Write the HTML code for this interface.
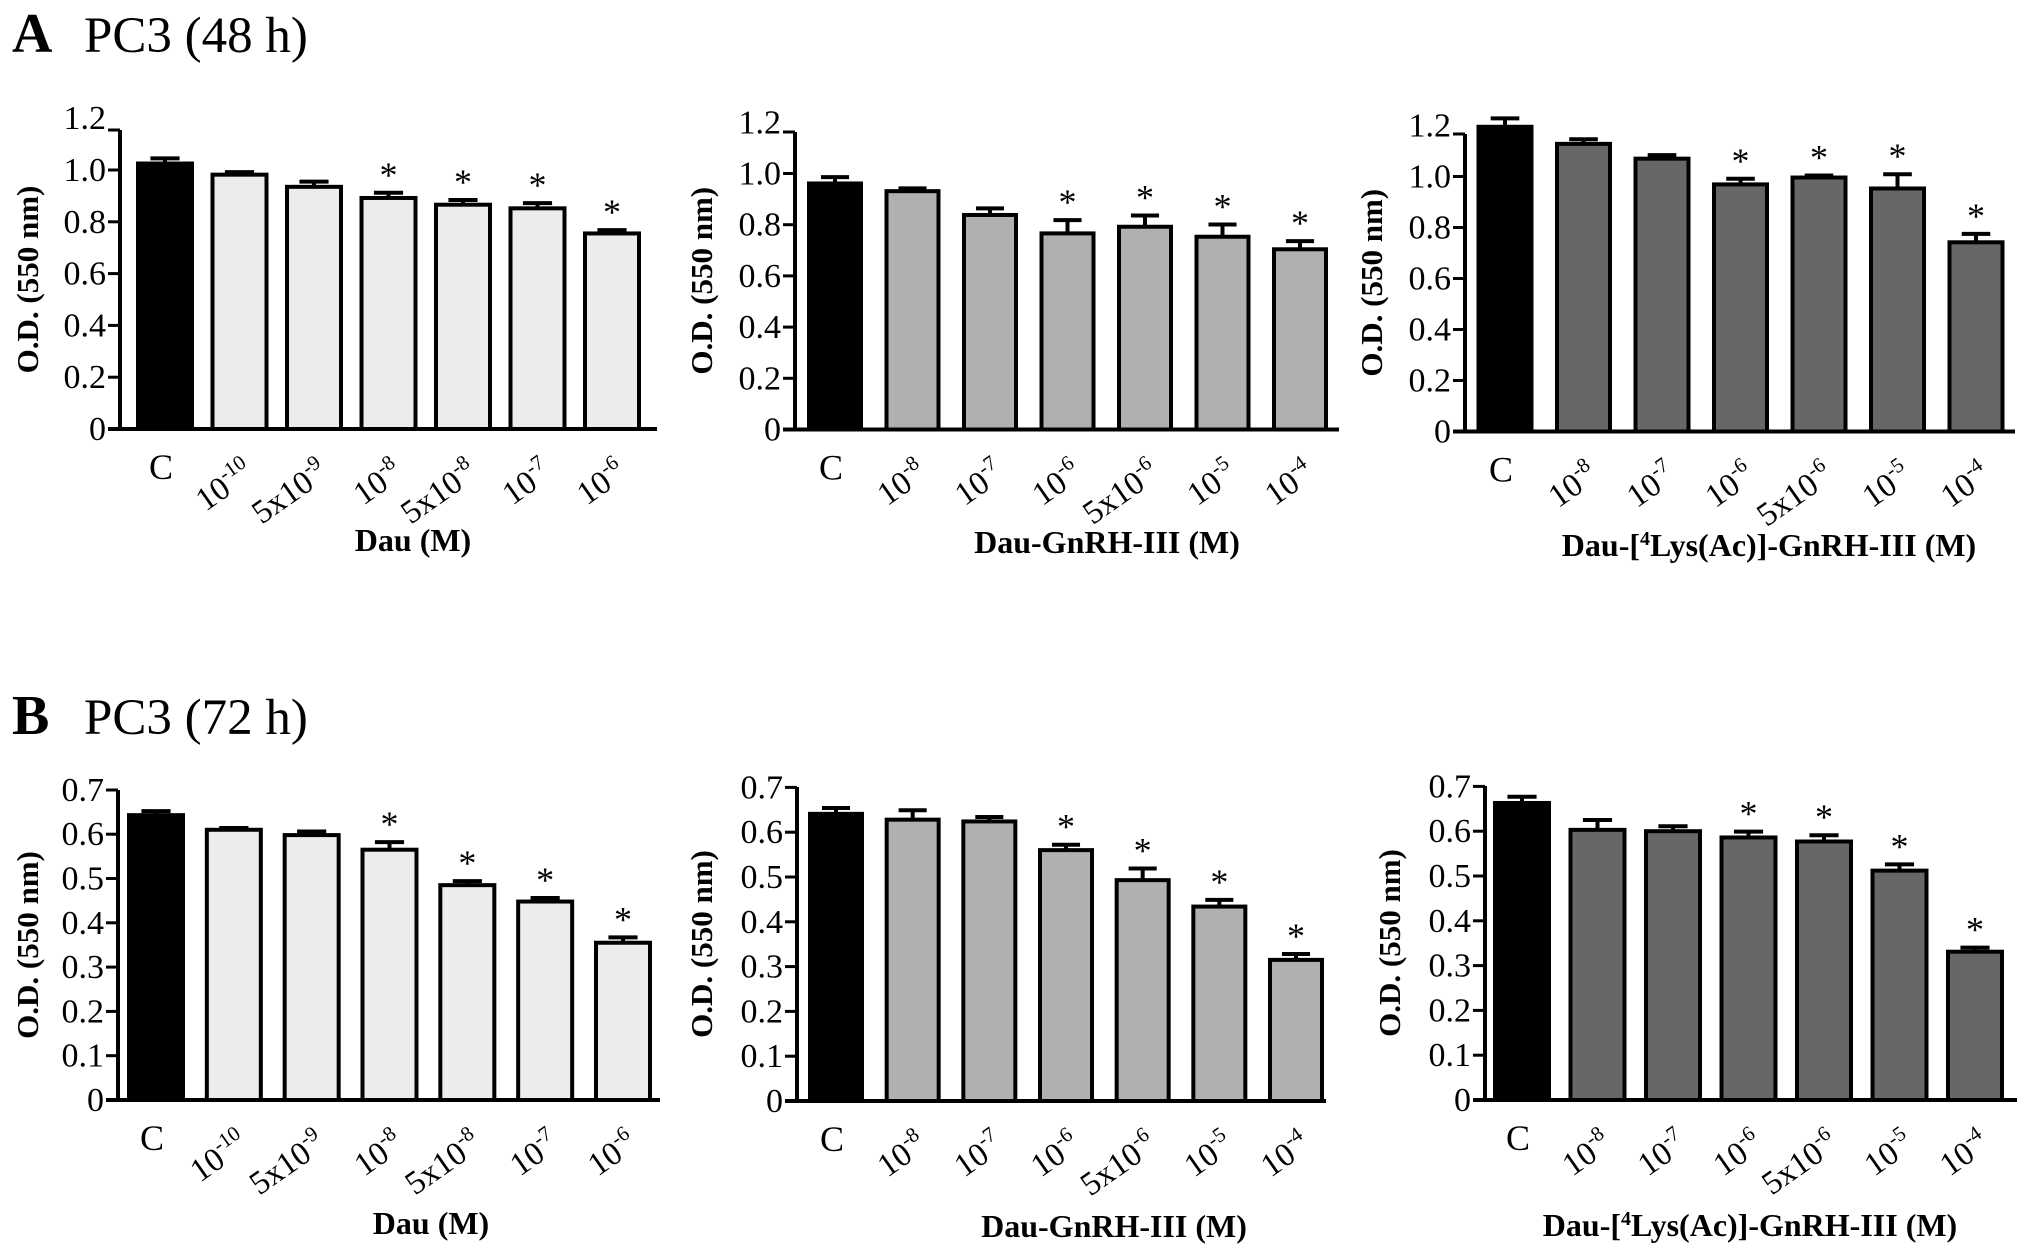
<!DOCTYPE html>
<html><head><meta charset="utf-8">
<style>
html,body{margin:0;padding:0;background:#fff;}
svg{display:block;font-family:"Liberation Serif","Times New Roman",serif;}
</style></head>
<body>
<svg id="fig" width="2031" height="1259" viewBox="0 0 2031 1259" xmlns="http://www.w3.org/2000/svg">
<text x="12" y="52" font-size="56" font-weight="bold">A</text>
<text x="84" y="52" font-size="51">PC3 (48 h)</text>
<text x="12" y="734" font-size="56" font-weight="bold">B</text>
<text x="84" y="734" font-size="51">PC3 (72 h)</text>
</svg>
<script>
// category labels [base, exponent]
const catsDau = [["C",""],["10","-10"],["5x10","-9"],["10","-8"],["5x10","-8"],["10","-7"],["10","-6"]];
const catsConj = [["C",""],["10","-8"],["10","-7"],["10","-6"],["5x10","-6"],["10","-5"],["10","-4"]];
const ticksA = ["0","0.2","0.4","0.6","0.8","1.0","1.2"];
const tickValsA = [0,0.2,0.4,0.6,0.8,1.0,1.2];
const ticksB = ["0","0.1","0.2","0.3","0.4","0.5","0.6","0.7"];
const tickValsB = [0,0.1,0.2,0.3,0.4,0.5,0.6,0.7];
// values
const a1Vals = [1.025,0.982,0.935,0.892,0.866,0.852,0.755];
const a1Err  = [1.045,0.992,0.955,0.912,0.884,0.872,0.768];
const a1Sig  = [0,0,0,1,1,1,1];
const a2Vals = [0.961,0.931,0.838,0.766,0.792,0.753,0.704];
const a2Err  = [0.986,0.942,0.864,0.818,0.836,0.801,0.736];
const a2Sig  = [0,0,0,1,1,1,1];
const a3Vals = [1.195,1.128,1.070,0.969,0.996,0.953,0.742];
const a3Err  = [1.228,1.146,1.084,0.991,1.004,1.009,0.775];
const a3Sig  = [0,0,0,1,1,1,1];
const b1Vals = [0.643,0.610,0.598,0.565,0.485,0.448,0.355];
const b1Err  = [0.652,0.614,0.606,0.582,0.494,0.456,0.367];
const b1Sig  = [0,0,0,1,1,1,1];
const b2Vals = [0.641,0.628,0.624,0.560,0.493,0.434,0.315];
const b2Err  = [0.654,0.649,0.634,0.572,0.519,0.449,0.328];
const b2Sig  = [0,0,0,1,1,1,1];
const b3Vals = [0.663,0.603,0.600,0.586,0.577,0.512,0.331];
const b3Err  = [0.677,0.625,0.611,0.599,0.591,0.526,0.340];
const b3Sig  = [0,0,0,1,1,1,1];

const NS="http://www.w3.org/2000/svg";
const svg=document.getElementById('fig');
function mk(tag,attrs,parent){const e=document.createElementNS(NS,tag);for(const k in attrs)e.setAttribute(k,attrs[k]);(parent||svg).appendChild(e);return e;}

function panel(p){
  const g=mk('g',{});
  
  
  const unit=p.unit;
  const y=v=>p.y0-v*unit;
  const n=p.vals.length;
  const step=(p.lastC-p.firstC)/(n-1);
  const xc=i=>p.firstC+i*step;
  const ya=mk('line',{x1:p.ax,y1:p.axTop,x2:p.ax,y2:p.y0+2,stroke:'#000','stroke-width':4},g);
  
  
  p.tickVals.forEach((tv,i)=>{
    const ty=Math.max(y(tv),p.axTop);
    const t=mk('line',{x1:p.ax-12,y1:ty,x2:p.ax,y2:ty,stroke:'#000','stroke-width':3},g);
    
    
    const l=mk('text',{x:p.ax-14,y:y(tv)+11,'font-size':34,'text-anchor':'end'},g);
    
    
    l.textContent=p.ticks[i];
  });
  const xa=mk('line',{x1:p.ax-12,y1:p.y0,x2:p.xEnd,y2:p.y0,stroke:'#000','stroke-width':4},g);
  
  
  for(let i=0;i<n;i++){
    const cx=xc(i), bw=p.bw;
    const top=y(p.vals[i]);
    const b=mk('rect',{x:cx-bw/2,y:top,width:bw,height:p.y0-top,fill:i===0?'#000':p.fill,stroke:'#000','stroke-width':4},g);
    
    
    const et=y(p.err[i]);
    const el=mk('path',{d:`M${cx},${top} V${et} M${cx-bw*0.27},${et} H${cx+bw*0.27}`,stroke:'#000','stroke-width':4,fill:'none'},g);
    
    
    if(p.sig[i]){
      const s=mk('text',{x:cx,y:et-6,'font-size':36,'text-anchor':'middle'},g);
      
      
      s.textContent='*';
    }
    const c=p.cats[i];
    let t;
    if(c[1]===''){
      t=mk('text',{x:cx-4,y:p.y0+50,'font-size':36,'text-anchor':'middle'},g);
      t.textContent=c[0];
    } else {
      const lx=cx+16, ly=p.y0+48;
      t=mk('text',{x:lx,y:ly,'font-size':33,'text-anchor':'end',transform:`rotate(-35 ${lx} ${ly})`},g);
      const t1=mk('tspan',{},t); t1.textContent=c[0];
      const t2=mk('tspan',{'font-size':21,dy:-14},t); t2.textContent=c[1];
    }
    
    
  }
  const yl=mk('text',{x:0,y:0,'font-size':31,'font-weight':'bold','text-anchor':'middle',transform:`translate(${p.ylx} ${(p.axTop+p.y0)/2}) rotate(-90)`},g);
  
  
  yl.textContent='O.D. (550 nm)';
  const xt=mk('text',{x:p.xtx,y:p.xty,'font-size':32,'font-weight':'bold','text-anchor':'middle'},g);
  
  
  if(p.lys){
    const a=mk('tspan',{},xt);a.textContent='Dau-[';
    const b=mk('tspan',{'font-size':20,dy:-11},xt);b.textContent='4';
    const c2=mk('tspan',{dy:11},xt);c2.textContent='Lys(Ac)]-GnRH-III (M)';
  } else xt.textContent=p.xtitle;
}

panel({name:'chart-a-dau',ax:120,axTop:130,y0:429,unit:259,xEnd:657,firstC:165,lastC:612,bw:54,fill:'#ececec',
  vals:a1Vals,err:a1Err,sig:a1Sig,cats:catsDau,ticks:ticksA,tickVals:tickValsA,ylx:38,xtx:413,xty:551,xtitle:'Dau (M)'});
panel({name:'chart-a-dau-gnrh',ax:795,axTop:132,y0:429.5,unit:256,xEnd:1339,firstC:835,lastC:1300,bw:52,fill:'#b0b0b0',
  vals:a2Vals,err:a2Err,sig:a2Sig,cats:catsConj,ticks:ticksA,tickVals:tickValsA,ylx:712,xtx:1107,xty:553,xtitle:'Dau-GnRH-III (M)'});
panel({name:'chart-a-dau-lys-gnrh',ax:1465,axTop:134,y0:431.5,unit:255,xEnd:2015,firstC:1505,lastC:1976,bw:53,fill:'#676767',
  vals:a3Vals,err:a3Err,sig:a3Sig,cats:catsConj,ticks:ticksA,tickVals:tickValsA,ylx:1382,xtx:1769,xty:556,lys:true});
panel({name:'chart-b-dau',ax:118,axTop:790,y0:1100,unit:443,xEnd:660,firstC:156,lastC:623,bw:54,fill:'#ececec',
  vals:b1Vals,err:b1Err,sig:b1Sig,cats:catsDau,ticks:ticksB,tickVals:tickValsB,ylx:38,xtx:431,xty:1234,xtitle:'Dau (M)'});
panel({name:'chart-b-dau-gnrh',ax:797,axTop:787,y0:1101,unit:448,xEnd:1326,firstC:836,lastC:1296,bw:52,fill:'#b0b0b0',
  vals:b2Vals,err:b2Err,sig:b2Sig,cats:catsConj,ticks:ticksB,tickVals:tickValsB,ylx:712,xtx:1114,xty:1237,xtitle:'Dau-GnRH-III (M)'});
panel({name:'chart-b-dau-lys-gnrh',ax:1485,axTop:786,y0:1100,unit:448,xEnd:2017,firstC:1522,lastC:1975,bw:54,fill:'#676767',
  vals:b3Vals,err:b3Err,sig:b3Sig,cats:catsConj,ticks:ticksB,tickVals:tickValsB,ylx:1400,xtx:1750,xty:1236,lys:true});
</script>
</body></html>
